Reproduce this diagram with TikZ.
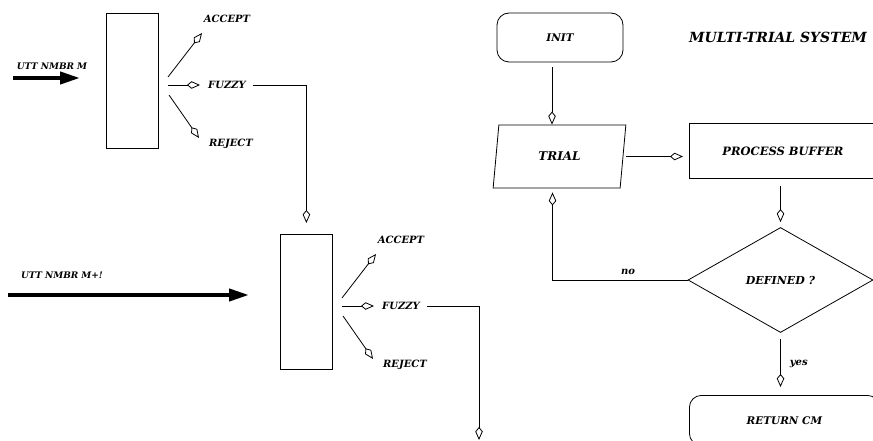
\documentclass[tikz,border=0pt]{standalone}
\usepackage{fontspec}
\setmainfont{DejaVu Serif}
\usetikzlibrary{arrows.meta,shapes.geometric,positioning}

\tikzset{
  lbl/.style={font=\bfseries\itshape\fontsize{10}{12}\selectfont, inner sep=1pt},
  open arrow/.style={-{Kite[open,length=13pt,width=7.5pt,inset=4.5pt]}, line width=0.8pt},
  fat arrow/.style={-{Triangle[length=20pt,width=12pt]}, line width=4pt},
  stage box/.style={draw, line width=0.8pt, minimum width=52pt, minimum height=135pt, inner sep=0pt},
  term/.style={draw, line width=0.8pt, rounded corners=12pt, lbl, font=\bfseries\itshape\fontsize{10.5}{12}\selectfont},
  io/.style={draw, line width=0.8pt, trapezium, trapezium left angle=79, trapezium right angle=101,
    trapezium stretches=true, minimum width=133pt, minimum height=63pt, lbl, font=\bfseries\itshape\fontsize{12}{14}\selectfont},
  process/.style={draw, line width=0.8pt, minimum width=187pt, minimum height=55pt, lbl, font=\bfseries\itshape\fontsize{11.5}{13}\selectfont},
  decision/.style={draw, line width=0.8pt, diamond, minimum width=185pt, minimum height=105pt, inner sep=0pt, lbl, font=\bfseries\itshape\fontsize{11}{13}\selectfont}
}

\begin{document}
\begin{tikzpicture}[x=1pt, y=-1pt]

\useasboundingbox (0,0) rectangle (873,441);

% the two recognition stages
\foreach \s/\bx/\by in {A/106/13, B/280/234} {
  \begin{scope}[shift={(\bx,\by)}]
    \node [stage box, anchor=north west] (box\s) at (0,0) {};
    \node [lbl] (accept\s) at (121,6) {ACCEPT};
    \node [lbl] (fuzzy\s) at (121,72) {FUZZY};
    \node [lbl] (reject\s) at (125,131) {REJECT};
    \coordinate (hub\s-a) at (62,64);
    \coordinate (hub\s-f) at (62,72);
    \coordinate (hub\s-r) at (63,82);
    \coordinate (tip\s-a) at (96,20);
    \coordinate (tip\s-r) at (93,125);
    \draw [open arrow] (hub\s-a) -- (tip\s-a);
    \draw [open arrow, shorten >=7pt] (hub\s-f) -- (hub\s-f -| fuzzy\s.west);
    \draw [open arrow] (hub\s-r) -- (tip\s-r);
  \end{scope}
}

% incoming utterances
\coordinate (inA) at (13,78);
\coordinate (inA-end) at (80,78);
\draw [fat arrow] (inA) -- (inA-end);
\node [lbl, font=\bfseries\itshape\fontsize{9}{11}\selectfont] (uttA) at (52,66) {UTT NMBR M};

\coordinate (inB) at (8,295);
\coordinate (inB-end) at (249,295);
\draw [fat arrow] (inB) -- (inB-end);
\node [lbl, font=\bfseries\itshape\fontsize{9}{11}\selectfont] (uttB) at (62,275) {UTT NMBR M+!};

\draw [open arrow, shorten <=6pt] (fuzzyA.east) -| ([yshift=11pt]boxB.north);
\coordinate (exitB) at (479,440);
\draw [open arrow, shorten <=6pt] (fuzzyB.east) -| (exitB);

% flowchart
\node [term, minimum width=126pt, minimum height=49pt] (init) at (560,37.5) {INIT};
\node [lbl, font=\bfseries\itshape\fontsize{14}{16}\selectfont] (title) at (778,37) {MULTI-TRIAL SYSTEM};
\node [io] (trial) at (559.5,156.5) {TRIAL};
\node [process, anchor=north west] (buffer) at (689,123) {PROCESS BUFFER};
\node [decision] (defined) at (780.5,280) {DEFINED ?};
\node [term, anchor=north west, minimum width=190pt, minimum height=50pt] (ret) at (689,395) {RETURN CM};

\draw [open arrow, shorten <=5pt] ([xshift=-8pt]init.south) -- ([xshift=-8pt]init.south |- trial.north);
\draw [open arrow, shorten <=3pt, shorten >=6pt] (trial.east) -- (trial.east -| buffer.west);
\draw [open arrow, shorten <=7pt, shorten >=5pt] (defined.north |- buffer.south) -- (defined.north);
\draw [open arrow, shorten >=4pt] (defined.west) -| node [lbl, pos=0.22, above=4pt] {no} ([xshift=-7pt]trial.south);
\draw [open arrow, shorten <=6pt, shorten >=8pt] (defined.south) -- node [lbl, right=8pt] {yes} (defined.south |- ret.north);

\end{tikzpicture}
\end{document}
